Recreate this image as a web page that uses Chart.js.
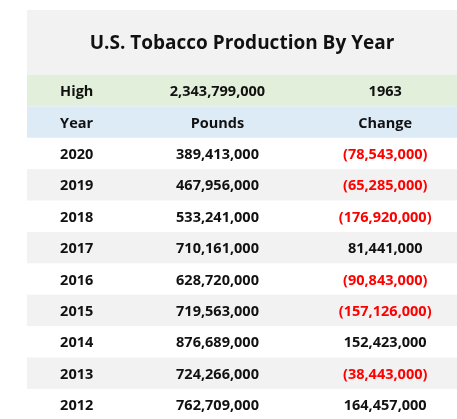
<!DOCTYPE html><html><head><script src="https://cdn.jsdelivr.net/npm/chart.js"></script>
<style>body{margin:0;background:#fff}#w{width:457px;height:419px}</style></head><body><div id="w"><canvas id="c"></canvas></div>
<script>
const title = "U.S. Tobacco Production By Year";
const highRow = ["High", "2,343,799,000", "1963"];
const headers = ["Year", "Pounds", "Change"];
const years = ["2020","2019","2018","2017","2016","2015","2014","2013","2012"];
const pounds = [389413000,467956000,533241000,710161000,628720000,719563000,876689000,724266000,762709000];
const changes = [-78543000,-65285000,-176920000,81441000,-90843000,-157126000,152423000,-38443000,164457000];

const fmt = v => Math.abs(v).toLocaleString('en-US');
const T0 = 2.07; // title height in rows
const tablePlugin = {
  id:'table',
  beforeDatasetsDraw(chart){
    const {ctx, scales:{x,y}} = chart;
    const L = x.getPixelForValue(0), R = x.getPixelForValue(1);
    const band = (a,b,col)=>{const ya=y.getPixelForValue(a), yb=y.getPixelForValue(b);ctx.fillStyle=col;ctx.fillRect(L,ya,R-L,yb-ya);};
    const text = (s,xv,yv,align,col,font)=>{ctx.fillStyle=col;ctx.font=font;ctx.textAlign=align;ctx.textBaseline='middle';ctx.fillText(s,x.getPixelForValue(xv),y.getPixelForValue(yv)+1.5);};
    band(0,T0,'#f2f2f2');
    band(T0,T0+1,'#e2efda');
    band(T0+1,T0+2,'#ddebf7');
    const f = 'bold 14.5px "Open Sans", sans-serif';
    text(title,0.5,T0/2,'center','#111','bold 19px "Open Sans", sans-serif');
    const cols=[[0.077,'left'],[0.443,'center'],[0.833,'center']];
    highRow.forEach((s,i)=>text(s,cols[i][0],T0+0.5,cols[i][1],'#111',f));
    headers.forEach((s,i)=>text(s,cols[i][0],T0+1.5,cols[i][1],'#111',f));
    years.forEach((yr,i)=>{
      const r=T0+2+i;
      if(i%2===1) band(r,r+1,'#f2f2f2');
      text(yr,cols[0][0],r+0.5,'left','#111',f);
      text(fmt(pounds[i]),cols[1][0],r+0.5,'center','#111',f);
      const c=changes[i];
      text(c<0?'('+fmt(c)+')':fmt(c),cols[2][0],r+0.5,'center',c<0?'#ff0000':'#111',f);
    });
  }
};
new Chart(document.getElementById('c'),{
  type:'scatter',
  data:{datasets:[{data:[]}]},
  options:{responsive:true,maintainAspectRatio:false,animation:false,
    layout:{padding:{left:27,top:10,right:0,bottom:0}},
    plugins:{legend:{display:false},tooltip:{enabled:false}},
    scales:{x:{type:'linear',min:0,max:1,display:false},
            y:{type:'linear',min:0,max:13.03,reverse:true,display:false}}},
  plugins:[tablePlugin]
});
</script></body></html>
